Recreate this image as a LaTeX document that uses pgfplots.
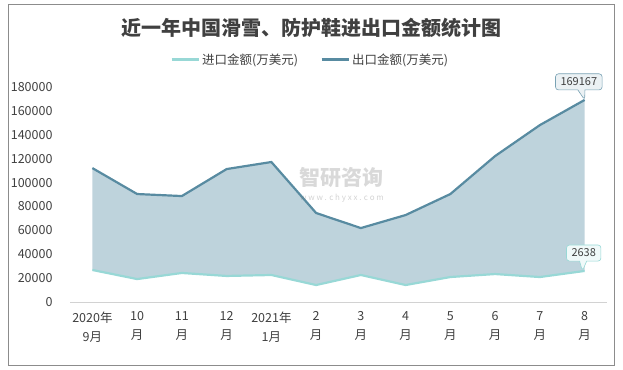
\documentclass[border=0pt]{standalone}
\usepackage{fontspec}
\setmainfont{Noto Sans CJK SC}
\usepackage{pgfplots}
\pgfplotsset{compat=1.18}
\usepgfplotslibrary{fillbetween}
\usetikzlibrary{shapes.callouts}
\definecolor{expc}{RGB}{88,139,161}
\definecolor{impc}{RGB}{152,216,214}
\definecolor{fillc}{RGB}{190,211,220}
\definecolor{txt}{RGB}{64,64,64}
\begin{document}
\begin{tikzpicture}
\path (0,0) rectangle (623pt,369pt);
\draw[gray!90, line width=0.8pt] (8pt,4pt) rectangle (614pt,365pt);
\node[font=\fontsize{20}{24}\selectfont\bfseries, text=txt] at (311pt,341pt) {近一年中国滑雪、防护鞋进出口金额统计图};
\begin{axis}[
  at={(70pt,67pt)}, anchor=south west, scale only axis,
  width=537pt, height=215pt,
  xmin=-0.5, xmax=11.5, ymin=0, ymax=180000,
  clip=false, set layers,
  axis line style={draw=none},
  major tick length=0pt,
  xtick={0,...,11},
  xticklabels={{2020年\\9月},{10\\月},{11\\月},{12\\月},{2021年\\1月},{2\\月},{3\\月},{4\\月},{5\\月},{6\\月},{7\\月},{8\\月}},
  xticklabel style={align=center, font=\fontsize{12.5}{19}\selectfont, text=txt, yshift=-6pt},
  ytick={0,20000,...,180000},
  scaled y ticks=false,
  /pgf/number format/assume math mode=true,
  yticklabel style={/pgf/number format/fixed, /pgf/number format/set thousands separator={}, font=\fontsize{12.5}{15}\selectfont, text=txt, xshift=-14pt},
  legend style={at={(0.447,1.126)}, anchor=center, draw=none, fill=none, legend columns=2,
    font=\fontsize{12.5}{15}\selectfont, text=txt,
    /tikz/every even column/.append style={column sep=20pt}},
  legend image code/.code={\draw[#1, line width=3pt] (0pt,0pt) -- (27pt,0pt);},
]
\draw[gray!35, line width=0.8pt] (axis cs:-0.5,0) -- (axis cs:11.5,0);
\addplot[impc, line width=2.2pt, name path=imp] coordinates {
(0,26800) (1,19200) (2,24300) (3,21800) (4,22600) (5,14200) (6,22600) (7,14200) (8,20900) (9,23400) (10,20900) (11,26000)};
\addlegendentry{进口金额(万美元)}
\addplot[expc, line width=2.2pt, name path=exp] coordinates {
(0,112100) (1,90400) (2,88700) (3,111300) (4,117200) (5,74500) (6,61900) (7,72800) (8,90400) (9,122200) (10,148100) (11,169167)};
\addlegendentry{出口金额(万美元)}
\addplot[fillc, forget plot] fill between[of=exp and imp];
\node[rectangle callout, rounded corners=3pt, draw=expc!80, fill=expc!12, line width=0.6pt,
  callout absolute pointer={(axis cs:11,169167)}, font=\fontsize{11}{13}\selectfont, text=txt, inner xsep=5pt, inner ysep=4pt]
  at (axis cs:10.87,184300) {169167};
\node[rectangle callout, rounded corners=3pt, draw=impc, fill=impc!15, line width=0.6pt,
  callout absolute pointer={(axis cs:10.95,26000)}, font=\fontsize{11}{13}\selectfont, text=txt, inner xsep=5pt, inner ysep=4pt]
  at (axis cs:10.98,41000) {2638};
\end{axis}
\node[font=\fontsize{21}{25}\selectfont\bfseries, text=gray, opacity=0.3] at (341pt,191pt) {智研咨询};
\node[font=\fontsize{8}{10}\selectfont, text=gray, opacity=0.35] at (342pt,171pt) {w w w . c h y x x . c o m};
\end{tikzpicture}
\end{document}
